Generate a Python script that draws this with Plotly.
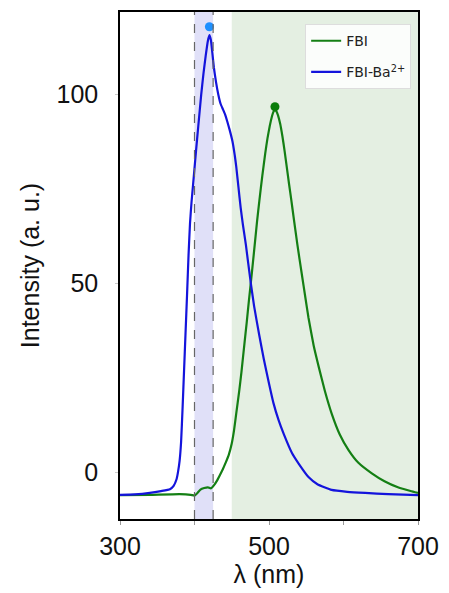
import plotly.graph_objects as go

# Emission spectra (wavelength in nm, intensity in a.u.)
fbi_wl = [300, 340, 380, 395, 400, 404, 408, 413, 418, 422, 426, 430, 434, 438, 442,
          446, 450, 453, 456, 460, 463, 467, 470, 473, 477, 480, 484, 487, 491, 495,
          498, 501, 504, 506, 508, 510, 512, 515, 518, 521, 524, 527, 530, 533, 538,
          544, 549, 553, 560, 567, 575, 584, 595, 607, 620, 638, 655, 673, 690, 700]
fbi_int = [-6.1, -6.0, -5.8, -6.0, -6.2, -5.5, -4.6, -4.2, -4.0, -4.3, -3.5, -2.3,
           -0.8, 0.8, 2.6, 4.6, 7.6, 11.0, 15.5, 21.5, 26.5, 34.0, 39.5, 45.4, 52.8,
           58.6, 66.5, 71.8, 78.5, 84.5, 88.5, 91.7, 94.3, 95.5, 96.0, 95.6, 94.6,
           92.3, 89.0, 85.0, 80.6, 76.2, 72.0, 67.6, 60.4, 52.5, 46.0, 40.9, 33.5,
           27.7, 21.5, 15.6, 10.0, 5.8, 2.5, -0.3, -2.4, -4.0, -5.0, -5.5]

ba_wl = [300, 320, 340, 355, 367, 372, 376, 378, 380, 382, 384, 386, 388, 390, 392,
         394, 396, 398, 400, 402, 405, 409, 412, 415, 418, 420, 422, 424, 426, 429,
         432, 435, 438, 441, 444, 447, 451, 454, 456, 459, 462, 465, 469, 472, 476,
         480, 487, 493, 500, 506, 513, 520, 531, 540, 553, 565, 584, 605, 629, 660, 700]
ba_int = [-6.0, -5.9, -5.5, -5.0, -4.5, -3.6, -1.8, 0.2, 3.0, 8.0, 17.0, 27.0, 37.0,
          47.0, 57.5, 66.0, 71.5, 76.0, 80.5, 85.0, 91.5, 100.0, 105.5, 110.3, 114.3,
          115.8, 114.5, 111.0, 107.2, 103.2, 100.0, 97.6, 96.2, 94.8, 92.9, 90.8, 87.6,
          84.0, 81.0, 75.5, 70.0, 65.5, 60.2, 55.5, 49.5, 44.0, 36.2, 30.0, 23.5, 18.3,
          13.7, 10.0, 5.0, 2.2, -1.3, -3.2, -4.7, -5.2, -5.5, -5.8, -6.1]

# Peak markers
fbi_peak = (508, 96.8)
ba_peak = (420, 118.0)

# Highlighted spectral windows
excitation_band = (400, 425)
emission_band = (450, 700)

x_ticks = [300, 400, 500, 600, 700]
x_tick_text = ["300", "", "500", "", "700"]
y_ticks = [0, 50, 100]

fbi_color = "#147f14"
ba_color = "#1414dc"

fig = go.Figure()

fig.add_trace(go.Scatter(
    x=fbi_wl, y=fbi_int, mode="lines", name="FBI", legendgroup="a",
    line=dict(color=fbi_color, width=2.2, shape="spline", smoothing=0.4),
))
fig.add_trace(go.Scatter(
    x=ba_wl, y=ba_int, mode="lines", name="FBI-Ba<sup>2+</sup>", legendgroup="b",
    line=dict(color=ba_color, width=2.2, shape="spline", smoothing=0.4),
))
fig.add_trace(go.Scatter(
    x=[fbi_peak[0]], y=[fbi_peak[1]], mode="markers", showlegend=False,
    marker=dict(color="#0a7d0a", size=9),
))
fig.add_trace(go.Scatter(
    x=[ba_peak[0]], y=[ba_peak[1]], mode="markers", showlegend=False,
    marker=dict(color="#1e90ff", size=9),
))

# Shaded windows and dashed band edges
fig.add_shape(type="rect", xref="x", yref="paper", x0=emission_band[0], x1=emission_band[1],
              y0=0, y1=1, fillcolor="#e4efe2", line_width=0, layer="below")
fig.add_shape(type="rect", xref="x", yref="paper", x0=excitation_band[0], x1=excitation_band[1],
              y0=0, y1=1, fillcolor="#e0e0f8", line_width=0, layer="below")
for xv in excitation_band:
    fig.add_shape(type="line", xref="x", yref="paper", x0=xv, x1=xv, y0=0, y1=1,
                  line=dict(color="#666666", width=1.2, dash="dash"))

axis_font = dict(family="Liberation Sans, Arial", size=25, color="#111111")

fig.update_layout(
    width=449, height=593,
    margin=dict(l=120, r=29, t=10, b=74),
    paper_bgcolor="white", plot_bgcolor="white",
    showlegend=True,
    legend=dict(
        x=0.977, xanchor="right", y=0.976, yanchor="top",
        bgcolor="rgba(255,255,255,0.85)", bordercolor="#dddddd", borderwidth=1,
        font=dict(family="DejaVu Sans", size=14, color="#222222"),
        tracegroupgap=10,
    ),
    xaxis=dict(
        range=[300, 700], tickvals=x_ticks, ticktext=x_tick_text,
        showgrid=False, zeroline=False, showline=True, linecolor="black", linewidth=1.5,
        mirror=True, ticks="outside", ticklen=4, tickcolor="#999999",
        tickfont=axis_font,
        title=dict(text="λ (nm)", font=axis_font, standoff=2),
    ),
    yaxis=dict(
        range=[-12.4, 121.9], tickvals=y_ticks,
        showgrid=False, zeroline=False, showline=True, linecolor="black", linewidth=1.5,
        mirror=True, ticks="outside", ticklen=3, tickcolor="#cccccc",
        tickfont=axis_font, ticklabelstandoff=12,
        title=dict(text="Intensity (a. u.)", font=axis_font, standoff=10),
    ),
)

fig.write_html("out.html")
